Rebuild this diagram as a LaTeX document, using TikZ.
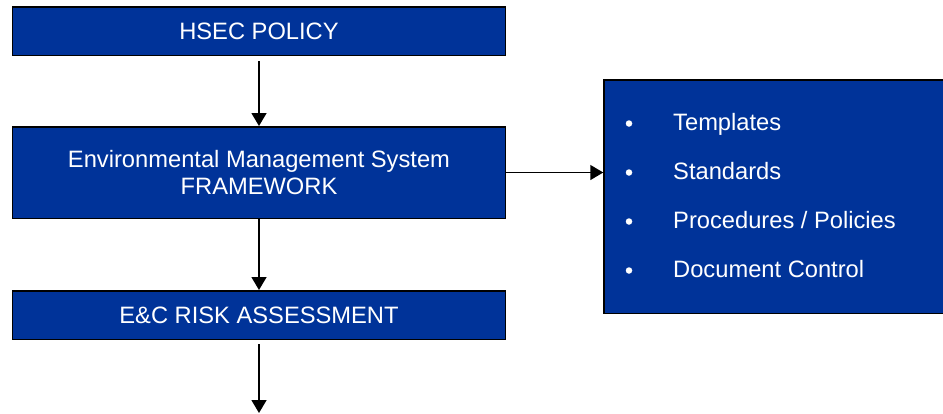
\documentclass[tikz,border=0pt]{standalone}
\usepackage{fontspec}
\setmainfont{Liberation Sans}
\usetikzlibrary{arrows.meta,positioning}
\definecolor{hsecblue}{RGB}{0,51,153}

\begin{document}
\begin{tikzpicture}[
  x=1pt, y=-1pt,
  font=\fontsize{23.7}{27}\selectfont,
  blk/.style={draw=black, line width=1.5pt, fill=hsecblue, text=white, align=center, inner sep=0pt, minimum width=493pt},
  item/.style={text=white, anchor=base west, inner sep=0pt},
  dot/.style={circle, fill=white, inner sep=0pt, minimum size=6.5pt},
  flow/.style={->, line width=1.5pt},
  >={Triangle[length=13pt, width=15pt]},
]
\useasboundingbox (0,0) rectangle (943,413);

% main flow down the left side
\node[blk, minimum height=48.5pt, text depth=0pt] (policy) at (259,31) {HSEC POLICY};
\node[blk, minimum height=91.5pt] (ems) at (259,172.5) {Environmental Management System\\FRAMEWORK};
\node[blk, minimum height=48.5pt, text depth=0pt] (risk) at (259,315) {E\&C RISK ASSESSMENT};
\coordinate (next) at (259,413);

% documents box on the right
\node[draw=black, line width=1.5pt, fill=hsecblue, minimum width=341pt, minimum height=233.5pt, inner sep=0pt] (docs) at (774.5,196.5) {};
\foreach \i/\txt in {0/Templates, 1/Standards, 2/{Procedures / Policies}, 3/Document Control} {
  \node[dot] (b\i) at (629,123.5+49*\i) {};
  \node[item] (t\i) at (673,130+49*\i) {\txt};
}

\draw[flow, shorten <=5pt] (policy.south) -- (ems.north);
\draw[flow] (ems.south) -- (risk.north);
\draw[flow, shorten <=4pt] (risk.south) -- (next);
\draw[flow] (ems.east) -- (ems.east -| docs.west);
\end{tikzpicture}
\end{document}
